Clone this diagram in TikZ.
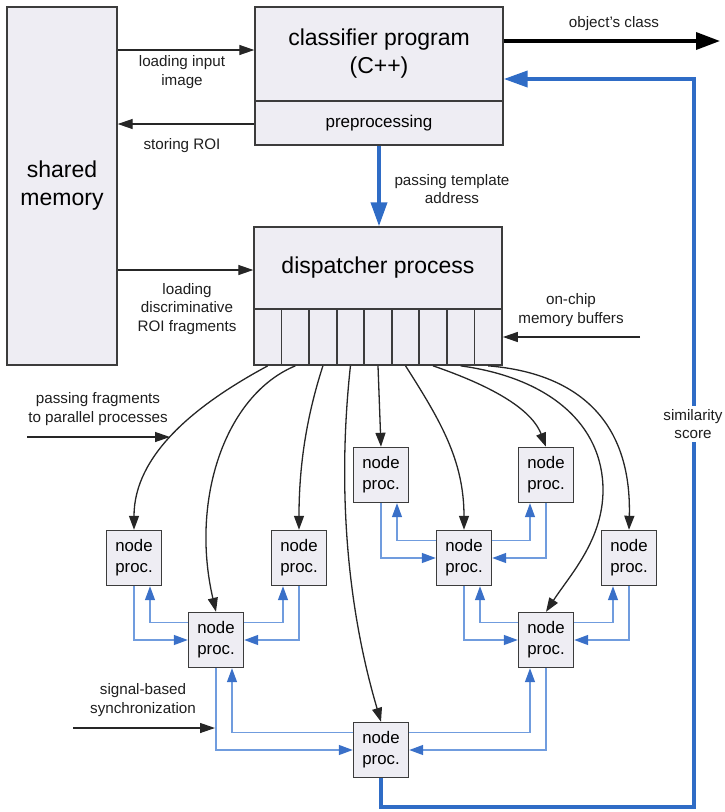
\documentclass[tikz,border=0pt]{standalone}
\usepackage{fontspec}
\setmainfont{Liberation Sans}
\usetikzlibrary{arrows.meta,calc}

\definecolor{boxfill}{RGB}{238,237,243}
\definecolor{boxline}{RGB}{60,60,60}
\definecolor{labeltext}{RGB}{30,30,30}
\definecolor{strongblue}{RGB}{47,108,198}
\definecolor{syncline}{RGB}{112,156,222}
\definecolor{synchead}{RGB}{58,112,200}

\begin{document}
\begin{tikzpicture}[x=1pt,y=-1pt,
  box/.style={draw=boxline, fill=boxfill, line width=1.4pt, inner sep=0pt, align=center},
  bigtext/.style={font=\fontsize{23}{28}\selectfont},
  proc/.style={box, minimum width=55pt, minimum height=55pt, font=\fontsize{16.8}{21}\selectfont},
  cell/.style={box, line width=1.7pt, minimum width=27.556pt, minimum height=56pt},
  lbl/.style={font=\fontsize{15.2}{18.5}\selectfont, align=center, text=labeltext, inner sep=0pt},
  feed/.style={draw=black!85, line width=1.3pt, -{Triangle[length=15pt,width=10pt]}},
  dispatch/.style={draw=black!85, line width=1.3pt, -{Triangle[length=14pt,width=10pt]}},
  sync/.style={draw=syncline, line width=1.3pt, -{Triangle[length=14pt,width=10pt,color=synchead]}},
  thickblue/.style={draw=strongblue, line width=3.8pt, -{Triangle[length=24pt,width=16pt]}},
]
\useasboundingbox (0,0) rectangle (724,812);

% ---------- main blocks ----------
\node[box, bigtext, minimum width=110pt, minimum height=358pt] (mem) at (62,186) {shared\\memory};
\node[box, bigtext, minimum width=248pt, minimum height=94pt] (cls) at (379,54) {classifier program\\(C++)};
\node[box, font=\fontsize{17}{20}\selectfont, minimum width=248pt, minimum height=44pt] (pre) at (379,123) {preprocessing};
\node[box, bigtext, minimum width=248pt, minimum height=82pt] (disp) at (378,268) {dispatcher process};
\foreach \i in {1,...,9}
  \node[cell] (c\i) at ({254+27.556*(\i-0.5)},337) {};

% ---------- processing nodes ----------
\node[proc] (A) at (134,558) {node\\proc.};
\node[proc] (B) at (299,558) {node\\proc.};
\node[proc] (C) at (216,640) {node\\proc.};
\node[proc] (D) at (381,475) {node\\proc.};
\node[proc] (E) at (546,475) {node\\proc.};
\node[proc] (F) at (464,558) {node\\proc.};
\node[proc] (G) at (629,558) {node\\proc.};
\node[proc] (H) at (546,640) {node\\proc.};
\node[proc] (I) at (381,750) {node\\proc.};

% ---------- helper coordinates ----------
\coordinate (rowLoad) at (0,50);
\coordinate (rowStore) at (0,124);
\coordinate (rowDiscr) at (0,270);
\coordinate (classOut) at (720,41);
\coordinate (bufIn) at (640,337);
\coordinate (fragIn) at (27,437);
\coordinate (fragTip) at (170,437);
\coordinate (syncIn) at (73,728);
\coordinate (syncTip) at (215,728);
\coordinate (simLow) at (694,807);
\coordinate (simHigh) at (694,79);

% ---------- labels ----------
\node[lbl] (lLoadImg) at (182,72) {loading input\\image};
\node[lbl] (lStore) at (182,146) {storing ROI};
\node[lbl] (lClass) at (614,24) {object's class};
\node[lbl] (lTemplate) at (452,189) {passing template\\address};
\node[lbl] (lDiscr) at (187,309) {loading\\discriminative\\ROI fragments};
\node[lbl] (lBuf) at (571,310) {on-chip\\memory buffers};
\node[lbl] (lFrag) at (98,409) {passing fragments\\to parallel processes};
\node[lbl] (lSync) at (143,700) {signal-based\\synchronization};

% ---------- memory and classifier links ----------
\draw[feed] (mem.east |- rowLoad) -- (cls.west |- rowLoad);
\draw[feed] (pre.west |- rowStore) -- (mem.east |- rowStore);
\draw[feed] (mem.east |- rowDiscr) -- (disp.west |- rowDiscr);
\draw[feed] (bufIn) -- (bufIn -| c9.east);
\draw[feed] (fragIn) -- (fragTip);
\draw[feed] (syncIn) -- (syncTip);
\draw[line width=3.5pt, -{Triangle[length=24pt,width=17pt]}] (cls.east |- classOut) -- (classOut);
\draw[thickblue] (pre.south) -- (pre.south |- disp.north);

% ---------- fragments dispatched from the buffers ----------
\draw[dispatch] (c1.south) .. controls (195,405) and (134,455) .. (A.north);
\draw[dispatch] (c2.south) .. controls (225,395) and (190,500) .. (C.north);
\draw[dispatch] (c3.south) .. controls (312,400) and (299,450) .. (B.north);
\draw[dispatch] (c4.south) .. controls (338,480) and (345,600) .. (I.north);
\draw[dispatch] (c5.south) -- (D.north);
\draw[dispatch] (c6.south) .. controls (440,420) and (464,460) .. (F.north);
\draw[dispatch] (c7.south) .. controls (480,382) and (530,405) .. (E.north);
\draw[dispatch] (c8.south) .. controls (550,378) and (603,425) .. (603,490)
                           .. controls (603,540) and (570,575) .. (H.north);
\draw[dispatch] (c9.south) .. controls (565,372) and (632,410) .. (G.north);

% ---------- synchronisation between node processes ----------
\foreach \p/\l/\r in {C/A/B, F/D/E, H/F/G, I/C/H} {
  \draw[sync] ($(\p.north west)+(0,11)$) -| ($(\l.south)+(16,0)$);
  \draw[sync] (\l.south) |- (\p.west);
  \draw[sync] ($(\p.north east)+(0,11)$) -| ($(\r.south)+(-16,0)$);
  \draw[sync] (\r.south) |- (\p.east);
}

% ---------- similarity score feedback ----------
\draw[thickblue] (I.south) |- (simLow) -- (simHigh) -- (simHigh -| cls.east);
\node[lbl, fill=white, inner ysep=3pt, inner xsep=1pt] (lSim) at (693,424) {similarity\\score};
\end{tikzpicture}
\end{document}
